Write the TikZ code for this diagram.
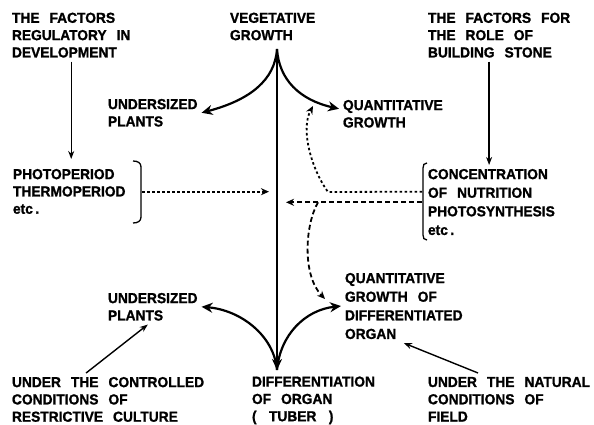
\documentclass[tikz,border=0pt]{standalone}
\usepackage{fontspec}
\setmainfont{Liberation Sans}[BoldFeatures={FakeBold=1.2,FakeStretch=0.95}]
\usetikzlibrary{arrows.meta,calc}
\newcommand\lblfont{\fontsize{14.5}{17.3}\selectfont\bfseries\spaceskip=10pt\relax}
\newcommand\lblfontw{\fontsize{14.5}{18.6}\selectfont\bfseries\spaceskip=10pt\relax}
\tikzset{
  lbl/.style={font=\lblfont,align=left,inner sep=0pt,outer sep=4pt,anchor=north west},
  lblw/.style={lbl,font=\lblfontw},
  mainline/.style={line width=2.2pt,-{Stealth[length=11pt,width=10pt]}},
  thinline/.style={line width=1.4pt,-{Stealth[length=8pt,width=6pt]}},
  dotline/.style={line width=1.8pt,dash pattern=on 2.5pt off 2.5pt,-{Stealth[length=8pt,width=7pt]}},
  dashline/.style={line width=1.8pt,dash pattern=on 5pt off 3pt,-{Stealth[length=8pt,width=7pt]}}
}

\begin{document}
\begin{tikzpicture}[x=1pt,y=-1pt]
\useasboundingbox (0,0) rectangle (594,425);

\node[lbl] (regf) at (8,8.7) {THE FACTORS\\REGULATORY IN\\DEVELOPMENT};
\node[lbl] (veg) at (226,8.7) {VEGETATIVE\\GROWTH};
\node[lbl] (bldf) at (424,8.7) {THE FACTORS FOR\\THE ROLE OF\\BUILDING STONE};
\node[lbl] (undtop) at (104,95) {UNDERSIZED\\PLANTS};
\node[lbl] (quant) at (339,96) {QUANTITATIVE\\GROWTH};
\node[lbl] (photo) at (9,165) {PHOTOPERIOD\\THERMOPERIOD\\etc\,.};
\node[lblw] (conc) at (424,165) {CONCENTRATION\\OF NUTRITION\\PHOTOSYNTHESIS\\etc\,.};
\node[lbl] (undbot) at (104,289) {UNDERSIZED\\PLANTS};
\node[lblw] (qgdo) at (341,269) {QUANTITATIVE\\GROWTH OF\\DIFFERENTIATED\\ORGAN};
\node[lbl] (diff) at (248,372.5) {DIFFERENTIATION\\OF ORGAN\\(\, TUBER\, )};
\node[lbl] (ctrl) at (8,373) {UNDER THE CONTROLLED\\CONDITIONS OF\\RESTRICTIVE CULTURE};
\node[lbl] (nat) at (424,373) {UNDER THE NATURAL\\CONDITIONS OF\\FIELD};

\coordinate (top) at (277,49);
\coordinate (bot) at (277,370);
\coordinate (lbr) at (142,191.7);
\coordinate (rbrA) at (422,191.7);
\coordinate (rbrB) at (422,202.3);
\coordinate (jn) at (328,192);
\coordinate (jd) at (318,202.3);
\coordinate (qup) at (313,106);
\coordinate (qdn) at (325,299);

\draw[line width=1.3pt] (133,161) .. controls (138,161) and (141,163) .. (141,167) -- (141,217)
  .. controls (141,221) and (138,223) .. (133,223);
\draw[line width=1.3pt] (427,163) .. controls (424,163) and (423,165) .. (423,168) -- (423,235)
  .. controls (423,238) and (424,240) .. (427,240);

\draw[mainline] (top) -- (bot);
\draw[mainline] (top) .. controls (275,80) and (250,100) .. (undtop.east);
\draw[mainline] (top) .. controls (279,80) and (300,100) .. ([yshift=5pt]quant.west);
\draw[mainline] (bot) .. controls (274,335) and (240,310) .. (undbot.east);
\draw[mainline] (bot) .. controls (280,335) and (305,310) .. (qgdo.west);

\draw[thinline,shorten >=6pt] (regf.south) -- (regf.south |- photo.north);
\draw[thinline] ([xshift=-10pt]bldf.south) -- ([xshift=-10pt]bldf.south |- conc.north);
\draw[thinline] ([xshift=-22pt]ctrl.north) -- ([xshift=-5pt]undbot.south);
\draw[thinline] ([xshift=-31pt]nat.north) -- (qgdo.south);

\draw[dotline,shorten >=8pt] (lbr) -- (lbr -| top);
\draw[dotline] (rbrA) -- (jn) .. controls (312,170) and (300,130) .. (qup);
\draw[dashline,shorten >=9pt] (rbrB) -- (rbrB -| top);
\draw[dashline] (jd) .. controls (305,225) and (302,275) .. (qdn);

\end{tikzpicture}
\end{document}
